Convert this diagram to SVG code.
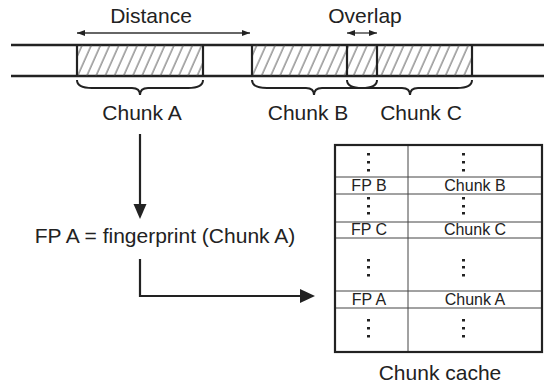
<svg xmlns="http://www.w3.org/2000/svg" width="544" height="384" viewBox="0 0 544 384">
<style>
text{font-family:"Liberation Sans",Arial,sans-serif;fill:#222}
.lbl{font-size:21px;text-anchor:middle}
.tt{font-size:16px;text-anchor:middle}
.rail{stroke:#222;stroke-width:2.5;fill:none}
.edge{stroke:#222;stroke-width:2.2;fill:none}
.brace{stroke:#222;stroke-width:2;fill:none}
.thin{stroke:#333;stroke-width:1.3;fill:none}
.cl{stroke:#444;stroke-width:1;fill:none}
.dot{fill:#222}
.ah{fill:#222}
</style>
<defs>
<pattern id="hatch" patternUnits="userSpaceOnUse" width="8.4" height="12" patternTransform="rotate(24)">
<line x1="1" y1="-2" x2="1" y2="14" stroke="#444" stroke-width="0.9"/>
</pattern>
<marker id="sm" viewBox="0 0 8 6" refX="8" refY="3" markerUnits="userSpaceOnUse" markerWidth="8" markerHeight="6" orient="auto-start-reverse">
<path d="M0,0 L8,3 L0,6 z" fill="#222"/>
</marker>
</defs>

<g id="stream">
<line class="rail" x1="11" y1="45" x2="544" y2="45"/>
<line class="rail" x1="11" y1="76" x2="544" y2="76"/>
</g>

<g id="chunk-a">
<rect x="77" y="45" width="126" height="31" fill="url(#hatch)"/>
<line class="edge" x1="77" y1="45" x2="77" y2="76"/>
<line class="edge" x1="203" y1="45" x2="203" y2="76"/>
<path class="brace" d="M77,80 Q77,88 92,88 L132,88 Q140,88 140,95 Q140,88 148,88 L188,88 Q203,88 203,80"/>
<text class="lbl" x="142" y="120">Chunk A</text>
</g>

<g id="chunk-b">
<rect x="252" y="45" width="220" height="31" fill="url(#hatch)"/>
<line class="edge" x1="252" y1="45" x2="252" y2="76"/>
<line class="edge" x1="347" y1="45" x2="347" y2="76"/>
<path class="brace" d="M252,80 Q252,88 267,88 L306,88 Q314,88 314,95 Q314,88 322,88 L362,88 Q377,88 377,80"/>
<text class="lbl" x="308" y="120">Chunk B</text>
</g>

<g id="chunk-c">
<line class="edge" x1="377" y1="45" x2="377" y2="76"/>
<line class="edge" x1="472" y1="45" x2="472" y2="76"/>
<path class="brace" d="M347,80 Q347,88 362,88 L402,88 Q410,88 410,95 Q410,88 418,88 L457,88 Q472,88 472,80"/>
<text class="lbl" x="421" y="120">Chunk C</text>
</g>

<g id="distance">
<text class="lbl" x="151" y="23">Distance</text>
<line class="thin" x1="77" y1="33" x2="250" y2="33" marker-start="url(#sm)" marker-end="url(#sm)"/>
</g>

<g id="overlap">
<text class="lbl" x="365" y="23">Overlap</text>
<line class="thin" x1="347" y1="33" x2="377" y2="33" marker-start="url(#sm)" marker-end="url(#sm)"/>
</g>

<g id="fingerprint">
<text class="lbl" x="165" y="243">FP A = fingerprint (Chunk A)</text>
</g>

<g id="chunk-cache">
<line class="cl" x1="335" y1="177" x2="542" y2="177"/>
<line class="cl" x1="335" y1="194" x2="542" y2="194"/>
<line class="cl" x1="335" y1="222" x2="542" y2="222"/>
<line class="cl" x1="335" y1="238" x2="542" y2="238"/>
<line class="cl" x1="335" y1="291" x2="542" y2="291"/>
<line class="cl" x1="335" y1="308" x2="542" y2="308"/>
<line class="cl" x1="408" y1="145" x2="408" y2="352"/>
<rect x="335" y="145" width="207" height="207" fill="none" stroke="#222" stroke-width="2.2"/>
<g class="dot">
<rect x="367" y="153" width="3" height="2.5"/><rect x="367" y="161" width="3" height="2.5"/><rect x="367" y="169" width="3" height="2.5"/>
<rect x="462" y="153" width="3" height="2.5"/><rect x="462" y="161" width="3" height="2.5"/><rect x="462" y="169" width="3" height="2.5"/>
<rect x="367" y="197" width="3" height="2.5"/><rect x="367" y="205" width="3" height="2.5"/><rect x="367" y="212" width="3" height="2.5"/>
<rect x="462" y="197" width="3" height="2.5"/><rect x="462" y="205" width="3" height="2.5"/><rect x="462" y="212" width="3" height="2.5"/>
<rect x="367" y="259" width="3" height="2.5"/><rect x="367" y="266" width="3" height="2.5"/><rect x="367" y="274" width="3" height="2.5"/>
<rect x="462" y="259" width="3" height="2.5"/><rect x="462" y="266" width="3" height="2.5"/><rect x="462" y="274" width="3" height="2.5"/>
<rect x="367" y="319" width="3" height="2.5"/><rect x="367" y="327" width="3" height="2.5"/><rect x="367" y="335" width="3" height="2.5"/>
<rect x="462" y="319" width="3" height="2.5"/><rect x="462" y="327" width="3" height="2.5"/><rect x="462" y="335" width="3" height="2.5"/>
</g>
<text class="tt" x="369" y="191">FP B</text>
<text class="tt" x="475" y="191">Chunk B</text>
<text class="tt" x="369" y="235">FP C</text>
<text class="tt" x="475" y="235">Chunk C</text>
<text class="tt" x="369" y="305">FP A</text>
<text class="tt" x="475" y="305">Chunk A</text>
<text class="lbl" x="440" y="380">Chunk cache</text>
</g>

<g id="connectors">
<line class="edge" x1="140" y1="134" x2="140" y2="206"/>
<polygon class="ah" points="133.5,204 146.5,204 140,219"/>
<polyline class="edge" points="140,259 140,296 302,296"/>
<polygon class="ah" points="300,289 315,296 300,303"/>
</g>
</svg>
